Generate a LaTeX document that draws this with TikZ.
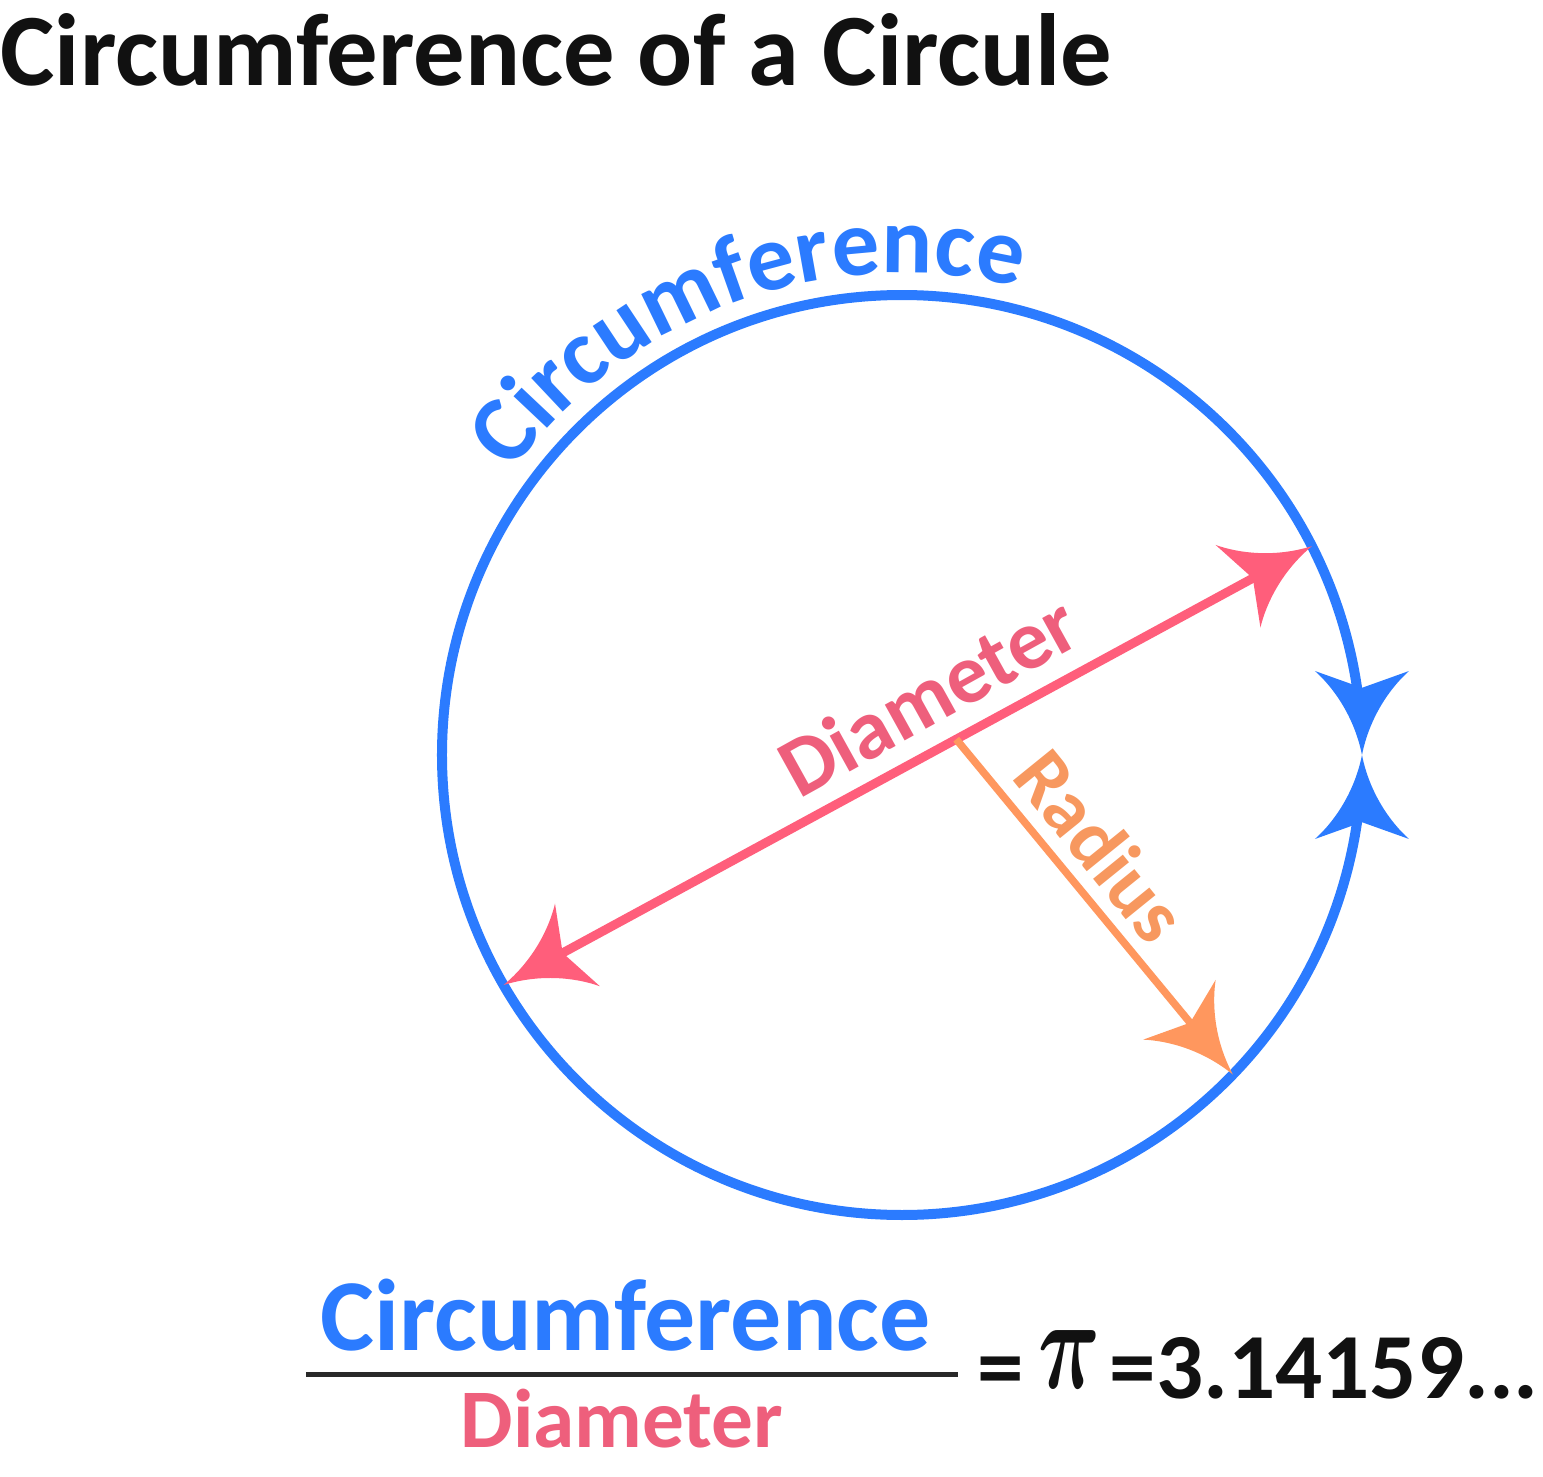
\documentclass[tikz,border=0pt]{standalone}
\usepackage{amsmath}
\usepackage{fontspec}
\setmainfont{Carlito}
\usepackage{graphicx}
\usetikzlibrary{arrows.meta,positioning,calc,decorations.text}
\usepackage{xcolor}
\definecolor{cblue}{HTML}{2B7BFF}
\definecolor{cpink}{HTML}{FF5E7B}
\definecolor{pinktxt}{HTML}{EE5F7C}
\definecolor{corange}{HTML}{FF975E}
\definecolor{orangetxt}{HTML}{F7985F}
\definecolor{dark}{HTML}{111111}

% arrow head with hollowed sides
\pgfdeclarearrow{
  name = Swoop,
  parameters = {\the\pgfarrowlength,\the\pgfarrowwidth},
  setup code = {
    \pgfarrowssettipend{\pgfarrowlength}
    \pgfarrowssetlineend{.3\pgfarrowlength}
    \pgfarrowssetbackend{0pt}
    \pgfarrowshullpoint{\pgfarrowlength}{0pt}
    \pgfarrowsupperhullpoint{0pt}{.5\pgfarrowwidth}
    \pgfarrowssavethe\pgfarrowlength
    \pgfarrowssavethe\pgfarrowwidth
  },
  drawing code = {
    \pgfpathmoveto{\pgfqpoint{\pgfarrowlength}{0pt}}
    \pgfpathcurveto{\pgfqpoint{.55\pgfarrowlength}{.08\pgfarrowwidth}}{\pgfqpoint{.2\pgfarrowlength}{.3\pgfarrowwidth}}{\pgfqpoint{0pt}{.5\pgfarrowwidth}}
    \pgfpathlineto{\pgfqpoint{.2\pgfarrowlength}{0pt}}
    \pgfpathlineto{\pgfqpoint{0pt}{-.5\pgfarrowwidth}}
    \pgfpathcurveto{\pgfqpoint{.2\pgfarrowlength}{-.3\pgfarrowwidth}}{\pgfqpoint{.55\pgfarrowlength}{-.08\pgfarrowwidth}}{\pgfqpoint{\pgfarrowlength}{0pt}}
    \pgfpathclose
    \pgfusepathqfill
  },
  defaults = {length=8.4mm, width=9.4mm}
}

\tikzset{
  circline/.style={draw=cblue, line width=0.1cm},
  diamline/.style={draw=cpink, line width=0.09cm, {Swoop}-{Swoop}},
  radline/.style={draw=corange, line width=0.075cm, -{Swoop}},
  fracline/.style={draw=dark!90, line width=0.05cm},
  titletext/.style={font=\fontsize{29.2}{32}\selectfont\bfseries, text=dark, inner sep=0},
  numtext/.style={font=\fontsize{29}{32}\selectfont\bfseries, text=cblue, inner sep=0},
  dentext/.style={font=\fontsize{23.7}{26}\selectfont\bfseries, text=pinktxt, inner sep=0},
  valtext/.style={font=\fontsize{26.5}{30}\selectfont\bfseries, text=dark, inner sep=0},
  pitext/.style={text=dark, inner sep=0},
  dlabel/.style={font=\fontsize{24}{27}\selectfont\bfseries, text=pinktxt, inner sep=0},
  rlabel/.style={font=\fontsize{22.5}{25}\selectfont\bfseries, text=orangetxt, inner sep=0}
}

\begin{document}
\begin{tikzpicture}
  \useasboundingbox (-9.02,-7.22) rectangle (6.41,7.55);

  \node[titletext, anchor=base west] (title) at (-9.02,6.70) {Circumference of a Circule};

  % the circle, split at the right so both halves end in a tip
  \node[circle, minimum size=9.2cm, inner sep=0, outer sep=0] (circ) at (0,0) {};
  \draw[circline] (circ.west) arc[start angle=180, end angle=8, radius=4.6cm];
  \draw[circline, -{Swoop}] (circ.8) arc[start angle=8, end angle=0, radius=4.6cm];
  \draw[circline] (circ.west) arc[start angle=180, end angle=352, radius=4.6cm];
  \draw[circline, -{Swoop}] (circ.-8) arc[start angle=-8, end angle=0, radius=4.6cm];
  \coordinate (cs) at (160:4.82);
  \path[decorate, decoration={text along path, text align=center, text color=cblue,
      text={|\fontsize{27}{30}\selectfont\bfseries|Circumference}}]
    (cs) arc[start angle=160, end angle=60, radius=4.82cm];

  % diameter
  \coordinate (d1) at (circ.210.5);
  \coordinate (d2) at (circ.27.5);
  \draw[diamline] (d1) -- (d2);
  \coordinate (dm) at ($(d1)!0.556!(d2)$);
  \node[dlabel, rotate=29, anchor=base] (dtxt) at ($(dm)!0.23cm!90:(d2)$) {Diameter};

  % radius
  \coordinate (rs) at ($(d1)!0.56!(d2)$);
  \coordinate (rt) at (circ.-44.5);
  \draw[radline] (rs) -- (rt);
  \coordinate (rm) at ($(rs)!0.40!(rt)$);
  \node[rlabel, rotate=-51, anchor=base] (rtxt) at ($(rm)!0.17cm!90:(rt)$) {Radius};

  % ratio
  \node[numtext, anchor=base] (num) at (-2.76,-5.95) {Circumference};
  \node[dentext, anchor=base] (den) at (-2.80,-6.92) {Diameter};
  \coordinate (fl) at (-5.96,-6.19);
  \coordinate (fr) at (0.56,-6.19);
  \draw[fracline] (fl) -- (fr);
  \node[valtext, anchor=base west] (eqa) at (0.75,-6.43) {=};
  \node[pitext] (pisym) at (1.68,-6.04) {\resizebox{0.62cm}{0.58cm}{$\boldsymbol{\pi}$}};
  \node[valtext, anchor=base west] (val) at (2.07,-6.43) {=3.14159...};
\end{tikzpicture}
\end{document}
